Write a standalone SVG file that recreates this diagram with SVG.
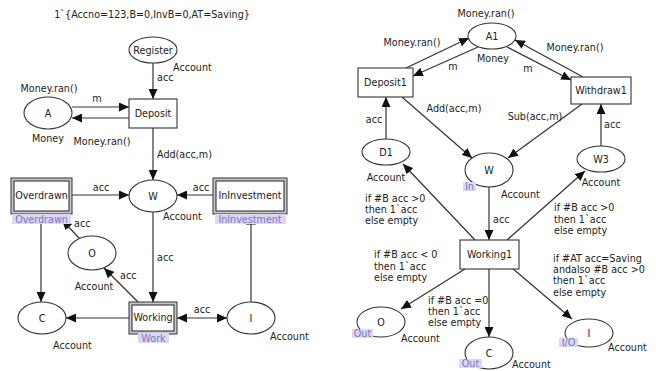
<svg xmlns="http://www.w3.org/2000/svg" width="656" height="371" viewBox="0 0 656 371">
<style>
text{font-family:"DejaVu Sans",Verdana,sans-serif;font-size:9.6px;fill:#222}
.m{text-anchor:middle}
.pl{fill:#fff;stroke:#333;stroke-width:1.1}
.tr{fill:#fff;stroke:#333;stroke-width:1.1}
.so{fill:#c8c8c8;stroke:#333;stroke-width:1}
.tag{fill:#dcd8f2;stroke:none}
.tt{fill:#7d72c6;text-anchor:middle}
.e{stroke:#333;stroke-width:1.2;fill:none;marker-end:url(#ah)}
.n{stroke:#333;stroke-width:1.2;fill:none}
</style>
<defs>
<marker id="ah" markerUnits="userSpaceOnUse" markerWidth="11" markerHeight="9" refX="10" refY="4.5" orient="auto-start-reverse"><path d="M0,0 L10,4.5 L0,9 z" fill="#111"/></marker>
</defs>
<rect width="656" height="371" fill="#fff"/>
<text x="152" y="18" class="m">1`{Accno=123,B=0,InvB=0,AT=Saving}</text>

<g id="connectors">
<line class="e" x1="153" y1="63" x2="153" y2="99"/>
<line class="e" x1="72" y1="107" x2="129" y2="107"/>
<line class="e" x1="129" y1="118" x2="72" y2="118"/>
<line class="e" x1="153" y1="128" x2="153" y2="180"/>
<line class="e" x1="72" y1="195" x2="129" y2="195"/>
<line class="e" x1="213" y1="195" x2="177" y2="195"/>
<line class="e" x1="153" y1="212" x2="153" y2="302"/>
<line class="e" x1="80" y1="239" x2="62" y2="220"/>
<line class="e" x1="138" y1="302" x2="104" y2="268"/>
<line class="e" x1="41" y1="224" x2="41" y2="302"/>
<line class="e" x1="129" y1="318" x2="66" y2="318"/>
<line class="e" x1="177" y1="318" x2="227" y2="318" marker-start="url(#ah)"/>
<line class="n" x1="251" y1="302" x2="251" y2="224"/>
<line class="n" x1="246" y1="224" x2="256" y2="224"/>

<line class="e" x1="406" y1="68" x2="469" y2="38"/>
<line class="e" x1="478" y1="47" x2="413" y2="76"/>
<line class="e" x1="507" y1="47" x2="571" y2="80"/>
<line class="e" x1="583" y1="77" x2="515" y2="40"/>
<line class="e" x1="402" y1="97" x2="472" y2="158"/>
<line class="e" x1="582" y1="104" x2="508" y2="158"/>
<line class="e" x1="386" y1="139" x2="386" y2="97"/>
<line class="e" x1="601" y1="146" x2="601" y2="104"/>
<line class="e" x1="489" y1="187" x2="489" y2="240"/>
<line class="e" x1="475" y1="240" x2="403" y2="164"/>
<line class="e" x1="507" y1="240" x2="585" y2="171"/>
<line class="e" x1="465" y1="269" x2="401" y2="309"/>
<line class="e" x1="489" y1="269" x2="489" y2="337"/>
<line class="e" x1="512" y1="268" x2="572" y2="319"/>

<text x="157" y="81">acc</text>
<text x="97" y="102" class="m">m</text>
<text x="102" y="145" class="m">Money.ran()</text>
<text x="157" y="158">Add(acc,m)</text>
<text x="101" y="191" class="m">acc</text>
<text x="201" y="191" class="m">acc</text>
<text x="157" y="261">acc</text>
<text x="74" y="227">acc</text>
<text x="120" y="279">acc</text>
<text x="202" y="313" class="m">acc</text>

<text x="412" y="46" class="m">Money.ran()</text>
<text x="453" y="70" class="m">m</text>
<text x="528" y="72" class="m">m</text>
<text x="575" y="51" class="m">Money.ran()</text>
<text x="454" y="112" class="m">Add(acc,m)</text>
<text x="535" y="120" class="m">Sub(acc,m)</text>
<text x="374" y="123" class="m">acc</text>
<text x="604" y="128">acc</text>
<text x="493" y="223">acc</text>
<text x="365" y="202">if #B acc &gt;0</text>
<text x="365" y="213">then 1`acc</text>
<text x="365" y="224">else empty</text>
<text x="554" y="211">if #B acc &gt;0</text>
<text x="554" y="223">then 1`acc</text>
<text x="554" y="234">else empty</text>
<text x="374" y="258">if #B acc &lt; 0</text>
<text x="374" y="270">then 1`acc</text>
<text x="374" y="281">else empty</text>
<text x="428" y="304">if #B acc =0</text>
<text x="428" y="315">then 1`acc</text>
<text x="428" y="326">else empty</text>
<text x="553" y="262">if #AT acc=Saving</text>
<text x="553" y="273">andalso #B acc &gt;0</text>
<text x="553" y="284">then 1`acc</text>
<text x="553" y="296">else empty</text>
</g>

<g id="Register"><ellipse class="pl" cx="153" cy="50" rx="24" ry="13"/><text x="153" y="53.5" class="m">Register</text><text x="173" y="71">Account</text></g>
<g id="Deposit"><rect class="tr" x="129" y="99" width="48" height="29"/><text x="153" y="117" class="m">Deposit</text></g>
<g id="A"><ellipse class="pl" cx="48" cy="113" rx="24" ry="16"/><text x="48" y="116.5" class="m">A</text><text x="49" y="92" class="m">Money.ran()</text><text x="48" y="142" class="m">Money</text></g>
<g id="W"><ellipse class="pl" cx="153" cy="196" rx="24" ry="16"/><text x="153" y="199.5" class="m">W</text><text x="163" y="220">Account</text></g>
<g id="Overdrawn"><rect class="so" x="11" y="178" width="61" height="36"/><rect class="tr" x="14" y="181" width="55" height="30"/><text x="41.5" y="199" class="m">Overdrawn</text><rect class="tag" x="12" y="214" width="59" height="10"/><text x="41.5" y="222.5" class="tt">Overdrawn</text></g>
<g id="InInvestment"><rect class="so" x="213" y="178" width="74" height="36"/><rect class="tr" x="216" y="181" width="68" height="30"/><text x="250" y="199" class="m">InInvestment</text><rect class="tag" x="215" y="214" width="71" height="10"/><text x="250" y="222.5" class="tt">InInvestment</text></g>
<g id="Working"><rect class="so" x="129" y="302" width="48" height="32"/><rect class="tr" x="132" y="305" width="42" height="26"/><text x="153" y="321" class="m">Working</text><rect class="tag" x="138" y="333" width="31" height="10"/><text x="153.5" y="341.5" class="tt">Work</text></g>
<g id="O"><ellipse class="pl" cx="92" cy="253" rx="24" ry="17"/><text x="92" y="256.5" class="m">O</text><text x="94" y="290" class="m">Account</text></g>
<g id="C"><ellipse class="pl" cx="42" cy="318" rx="24" ry="16"/><text x="42" y="321.5" class="m">C</text><text x="53" y="349">Account</text></g>
<g id="I"><ellipse class="pl" cx="251" cy="318" rx="24" ry="16"/><text x="251" y="321.5" class="m">I</text><text x="270" y="340">Account</text></g>

<g id="A1"><ellipse class="pl" cx="492" cy="36" rx="24" ry="13"/><text x="492" y="39.5" class="m">A1</text><text x="486" y="17" class="m">Money.ran()</text><text x="493" y="62" class="m">Money</text></g>
<g id="Deposit1"><rect class="tr" x="358" y="68" width="55" height="29"/><text x="385.5" y="86" class="m">Deposit1</text></g>
<g id="Withdraw1"><rect class="tr" x="571" y="77" width="60" height="27"/><text x="601" y="94" class="m">Withdraw1</text></g>
<g id="W2"><ellipse class="pl" cx="489" cy="170" rx="24" ry="17"/><text x="489" y="173.5" class="m">W</text><rect class="tag" x="463" y="182" width="13" height="9"/><text x="469.5" y="190" class="tt">In</text><text x="501" y="198">Account</text></g>
<g id="D1"><ellipse class="pl" cx="386" cy="152" rx="24" ry="13"/><text x="386" y="155.5" class="m">D1</text><text x="386" y="181" class="m">Account</text></g>
<g id="W3"><ellipse class="pl" cx="601" cy="159" rx="24" ry="13"/><text x="601" y="162.5" class="m">W3</text><text x="601" y="186" class="m">Account</text></g>
<g id="Working1"><rect class="tr" x="460" y="240" width="59" height="29"/><text x="489.5" y="258" class="m">Working1</text></g>
<g id="O2"><ellipse class="pl" cx="381" cy="322" rx="24" ry="15"/><text x="381" y="325.5" class="m">O</text><rect class="tag" x="352" y="329" width="21" height="9"/><text x="362.5" y="337" class="tt">Out</text><text x="401" y="342">Account</text></g>
<g id="C2"><ellipse class="pl" cx="489" cy="353" rx="24" ry="16"/><text x="489" y="356.5" class="m">C</text><rect class="tag" x="459" y="359" width="23" height="9"/><text x="470.5" y="367" class="tt">Out</text><text x="512" y="368">Account</text></g>
<g id="I2"><ellipse class="pl" cx="589" cy="333" rx="24" ry="14"/><text x="589" y="336.5" class="m">I</text><rect class="tag" x="559" y="338" width="19" height="9"/><text x="568.5" y="346" class="tt">I/O</text><text x="608" y="351">Account</text></g>
</svg>
